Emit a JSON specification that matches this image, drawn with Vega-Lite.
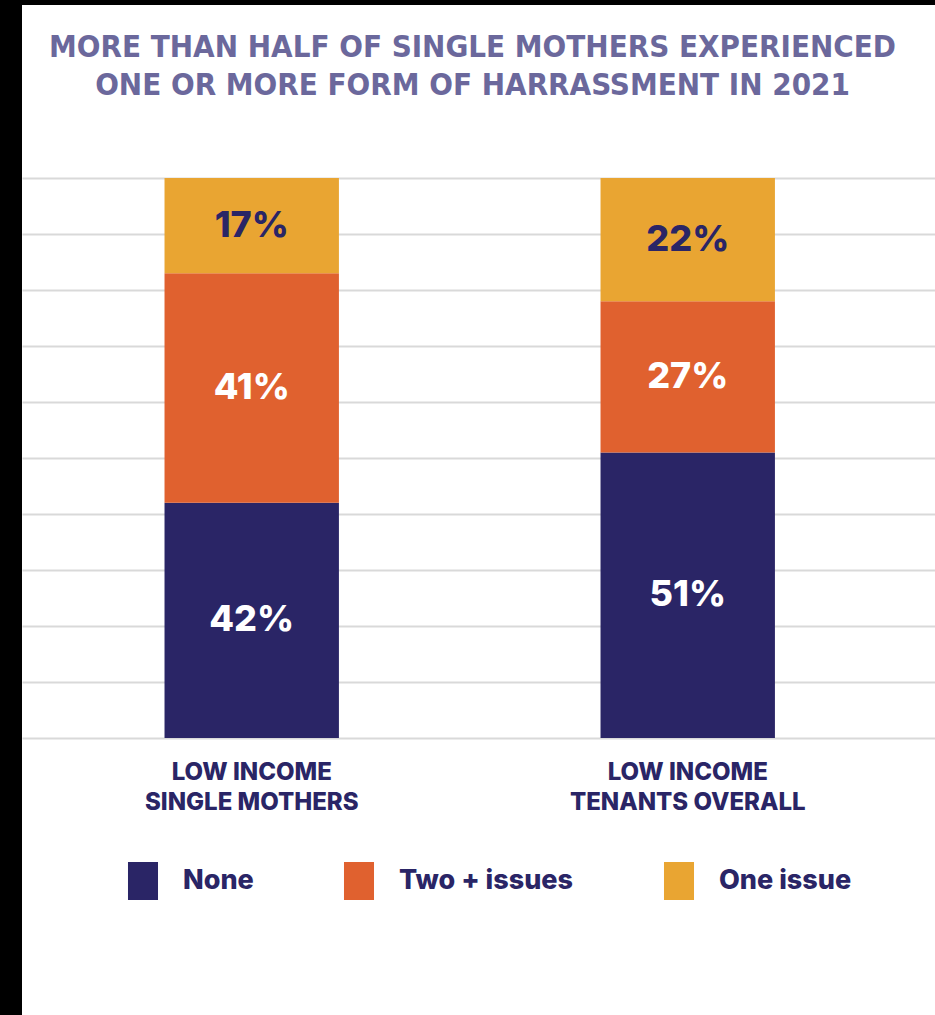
{
  "$schema": "https://vega.github.io/schema/vega-lite/v6.json",
  "width": 913,
  "height": 1010,
  "autosize": {"type": "none"},
  "padding": {"left": 22, "top": 5, "right": 0, "bottom": 0},
  "background": "black",
  "config": {
    "view": {"fill": "white", "stroke": null},
    "font": "Inter"
  },
  "title": {
    "text": ["MORE THAN HALF OF SINGLE MOTHERS EXPERIENCED", "ONE OR MORE FORM OF HARRASSMENT IN 2021"],
    "font": "'Liberation Sans Narrow', 'DejaVu Sans Condensed', sans-serif",
    "fontSize": 31,
    "fontWeight": "bold",
    "color": "#6b689c",
    "anchor": "middle",
    "frame": "group",
    "orient": "top",
    "offset": -97,
    "lineHeight": 38,
    "dx": -6
  },
  "data": {
    "values": [
      {"group": "LOW INCOME|SINGLE MOTHERS", "issue": "None", "k": 1, "value": 0.42},
      {"group": "LOW INCOME|SINGLE MOTHERS", "issue": "Two + issues", "k": 2, "value": 0.41},
      {"group": "LOW INCOME|SINGLE MOTHERS", "issue": "One issue", "k": 3, "value": 0.17},
      {"group": "LOW INCOME|TENANTS OVERALL", "issue": "None", "k": 1, "value": 0.51},
      {"group": "LOW INCOME|TENANTS OVERALL", "issue": "Two + issues", "k": 2, "value": 0.27},
      {"group": "LOW INCOME|TENANTS OVERALL", "issue": "One issue", "k": 3, "value": 0.22}
    ]
  },
  "transform": [
    {"stack": "value", "groupby": ["group"], "sort": [{"field": "k", "order": "ascending"}], "as": ["v0", "v1"]},
    {"calculate": "(datum.v0 + datum.v1) / 2", "as": "mid"}
  ],
  "encoding": {
    "x": {
      "field": "group",
      "type": "nominal",
      "sort": null,
      "scale": {"paddingInner": 0.6, "paddingOuter": 0.347, "align": 0.471},
      "axis": {
        "title": null,
        "orient": "bottom",
        "offset": -277,
        "domain": false,
        "ticks": false,
        "labelAngle": 0,
        "labelExpr": "split(datum.label, '|')",
        "labelFont": "Inter",
        "labelFontSize": 24,
        "labelFontWeight": 800,
        "labelColor": "#2a2566",
        "labelPadding": 22,
        "labelLineHeight": 30,
        "labelBaseline": "top",
        "labelLimit": 500
      }
    }
  },
  "layer": [
    {
      "mark": {"type": "bar"},
      "encoding": {
        "y": {
          "field": "v1",
          "type": "quantitative",
          "scale": {"domain": [-0.49464, 1.30893], "nice": false, "zero": false},
          "axis": {
            "title": null,
            "values": [0, 0.1, 0.2, 0.3, 0.4, 0.5, 0.6, 0.7, 0.8, 0.9, 1],
            "labels": false,
            "ticks": false,
            "domain": false,
            "grid": true,
            "gridColor": "#d9d9d9",
            "gridWidth": 2
          }
        },
        "y2": {"field": "v0"},
        "color": {
          "field": "issue",
          "type": "nominal",
          "scale": {"domain": ["None", "Two + issues", "One issue"], "range": ["#2a2566", "#e0612f", "#e9a532"]},
          "legend": {
            "title": null,
            "orient": "none",
            "direction": "horizontal",
            "legendX": 102,
            "legendY": 857,
            "padding": 0,
            "symbolType": "M-0.79,-1H0.79V1H-0.79Z",
            "symbolSize": 1444,
            "symbolStrokeWidth": 0,
            "symbolOpacity": 1,
            "labelOffset": 21,
            "columnPadding": 86,
            "labelFont": "Inter",
            "labelFontSize": 27,
            "labelFontWeight": 800,
            "labelColor": "#2a2566",
            "labelLimit": 400
          }
        }
      }
    },
    {
      "mark": {"type": "text", "font": "Inter", "fontSize": 36, "fontWeight": 800, "baseline": "middle", "align": "center"},
      "encoding": {
        "y": {"field": "mid", "type": "quantitative"},
        "text": {"field": "value", "type": "quantitative", "format": ".0%"},
        "color": {
          "condition": {"test": "datum.issue === 'One issue'", "value": "#2a2566"},
          "value": "#ffffff"
        }
      }
    }
  ]
}
